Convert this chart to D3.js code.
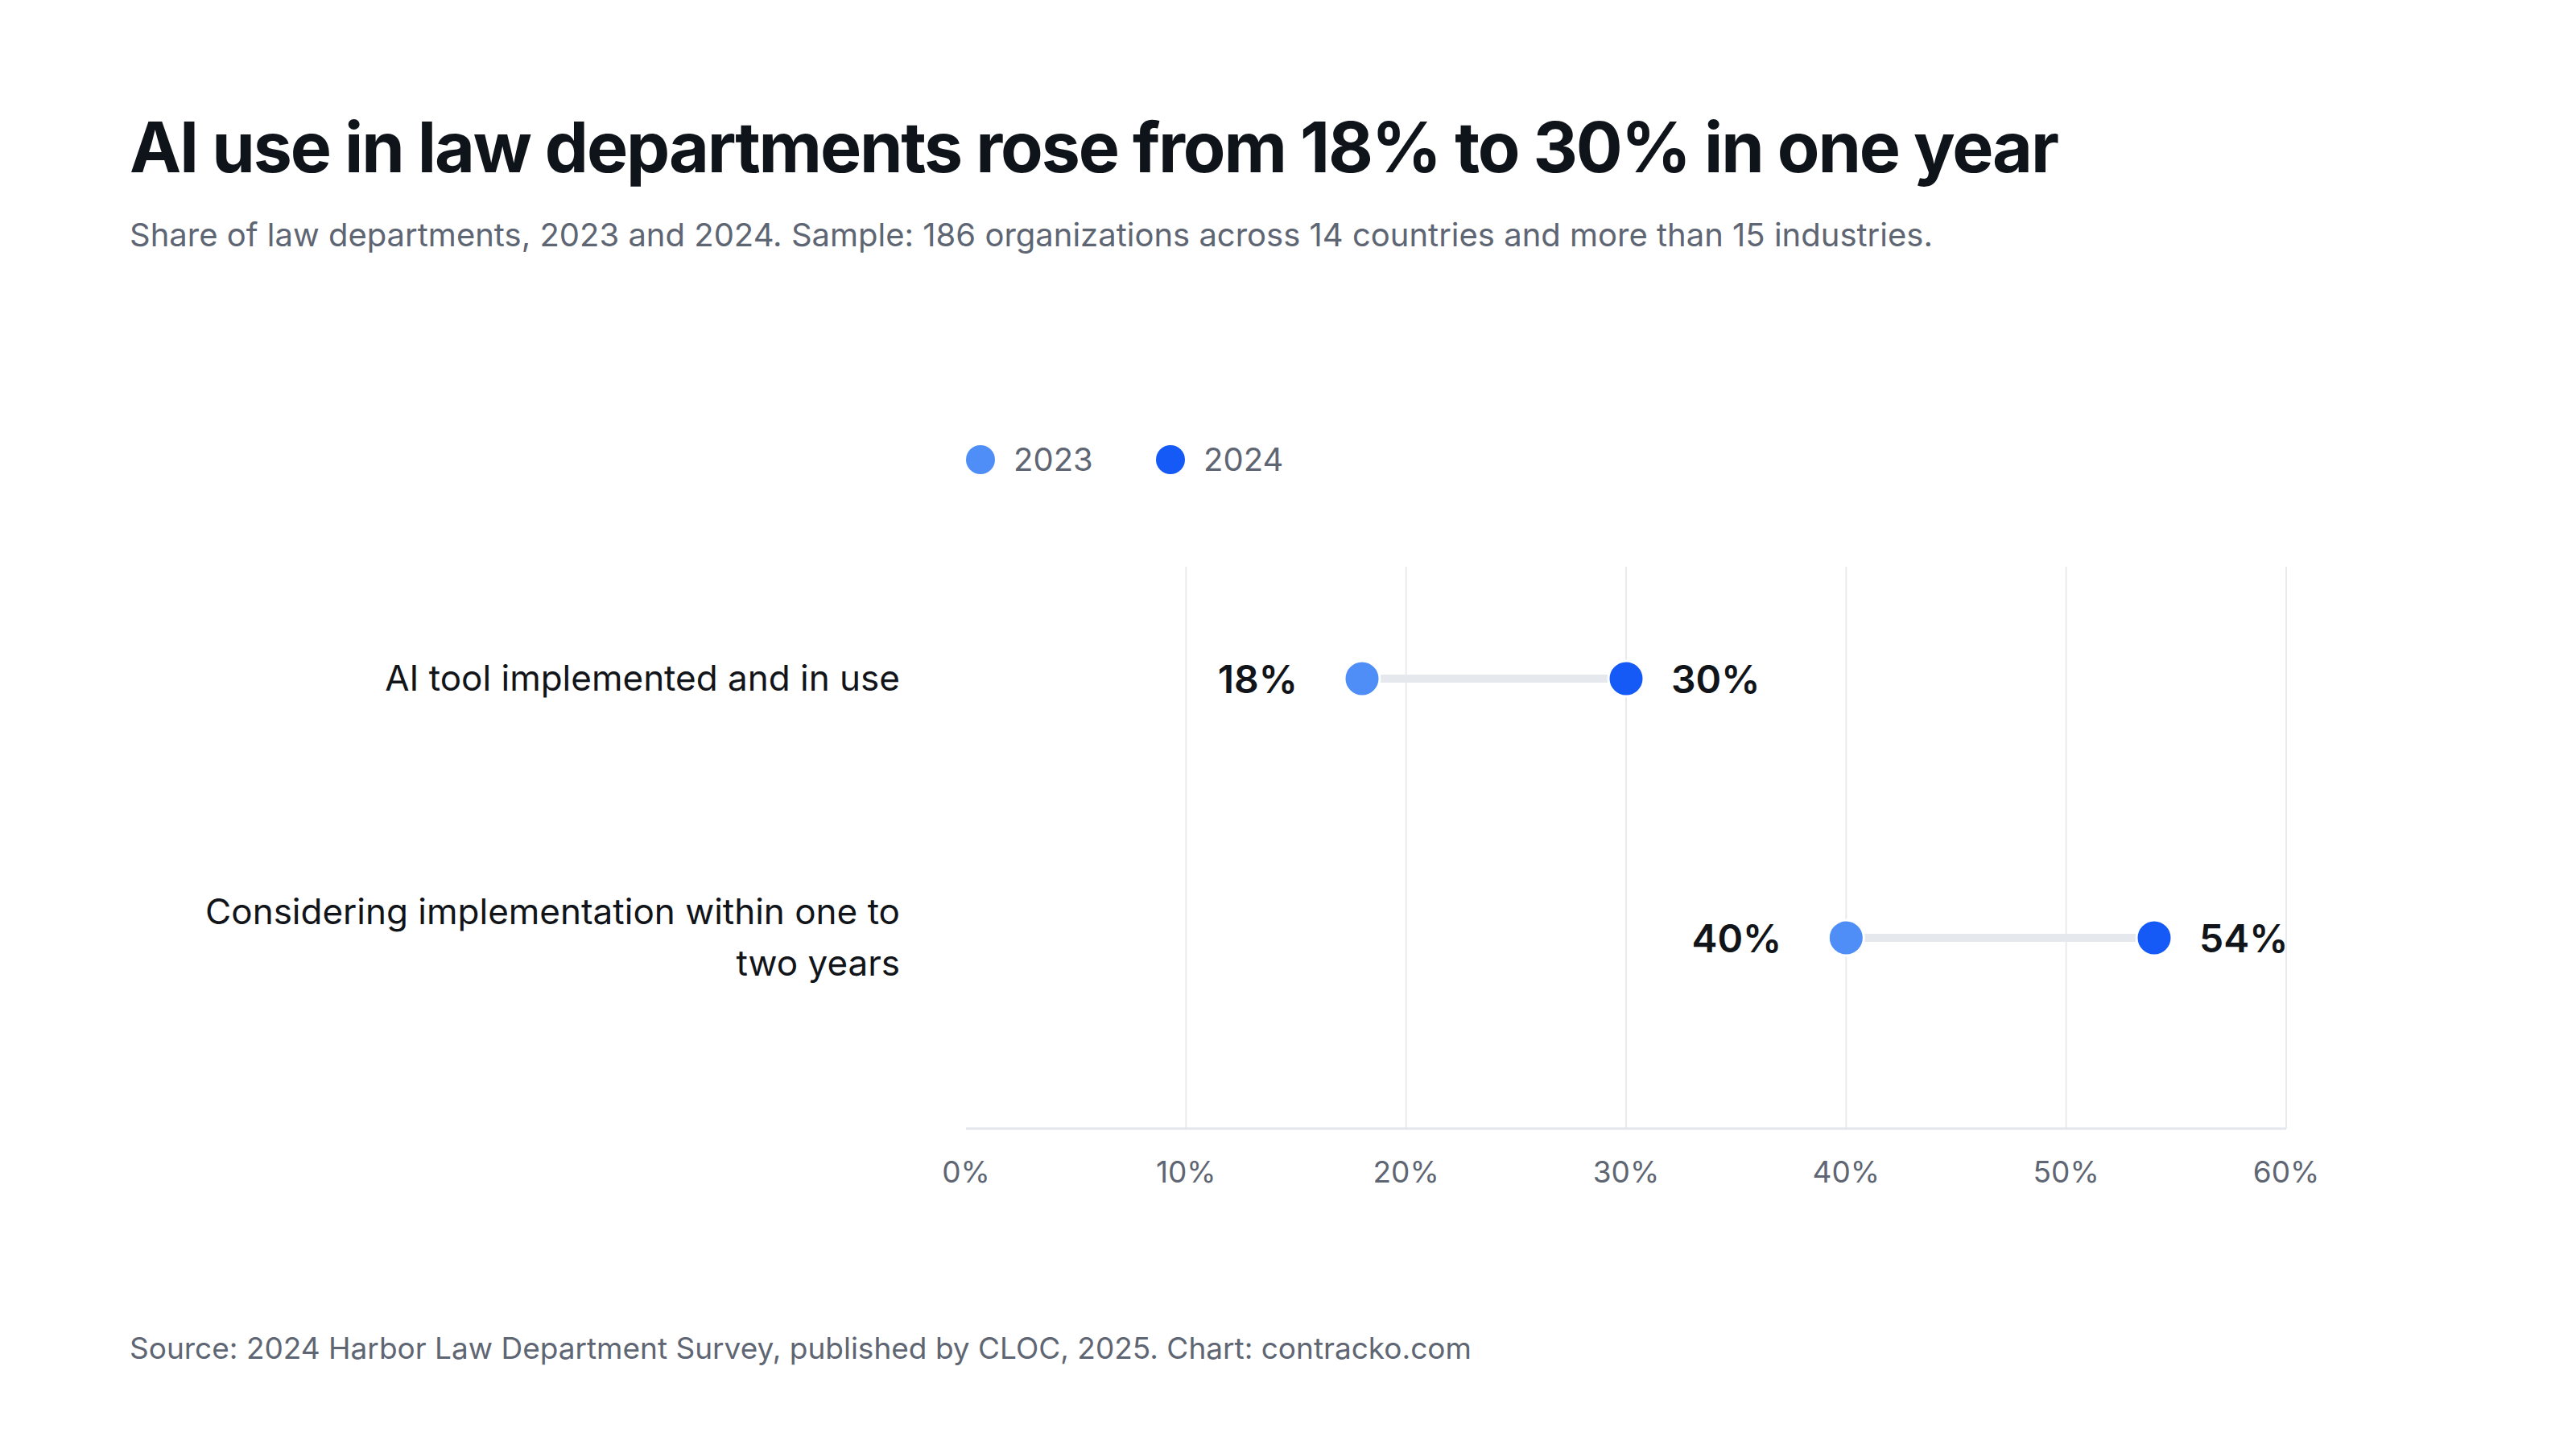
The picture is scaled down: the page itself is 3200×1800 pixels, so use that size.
<!DOCTYPE html>
<html>
<head>
<meta charset="utf-8">
<script src="https://cdn.jsdelivr.net/npm/d3@7.9.0/dist/d3.min.js"></script>
<style>
  body { margin: 0; background: #fff; }
  svg { display: block; font-family: Inter, "Noto Sans", sans-serif; }
</style>
</head>
<body>
<svg width="3200" height="1800"></svg>
<script>
const categories = [
  ['AI tool implemented and in use'],
  ['Considering implementation within one to', 'two years']
];
const values2023 = [18, 40];
const values2024 = [30, 54];
const xTicks = [0, 10, 20, 30, 40, 50, 60];
const years = ['2023', '2024'];

const c2023 = '#4f8ef6';
const c2024 = '#1559f6';

const svg = d3.select('svg');

svg.append('text').attr('x', 161).attr('y', 214)
  .attr('font-size', 86).attr('font-weight', 700).attr('fill', '#0f131a')
  .attr('letter-spacing', '-0.025em')
  .text('AI use in law departments rose from 18% to 30% in one year');

svg.append('text').attr('x', 161).attr('y', 306)
  .attr('font-size', 40).attr('fill', '#5f6673')
  .text('Share of law departments, 2023 and 2024. Sample: 186 organizations across 14 countries and more than 15 industries.');

svg.append('text').attr('x', 161).attr('y', 1688)
  .attr('font-size', 37).attr('fill', '#5f6673')
  .text('Source: 2024 Harbor Law Department Survey, published by CLOC, 2025. Chart: contracko.com');

// legend
const legend = svg.append('g');
[[1218, 1259], [1454, 1495]].forEach(([cx, tx], i) => {
  legend.append('circle').attr('cx', cx).attr('cy', 571).attr('r', 18)
    .attr('fill', i ? c2024 : c2023);
  legend.append('text').attr('x', tx).attr('y', 585)
    .attr('font-size', 40).attr('fill', '#5f6673').text(years[i]);
});

const x = d3.scaleLinear().domain([0, 60]).range([1200, 2840]);
const y = d3.scalePoint().domain(d3.range(categories.length)).range([843, 1165]);
const plotTop = 704, plotBottom = 1402;

svg.append('g').selectAll('line').data(xTicks.slice(1)).join('line')
  .attr('x1', d => x(d)).attr('x2', d => x(d))
  .attr('y1', plotTop).attr('y2', plotBottom)
  .attr('stroke', '#e8eaee').attr('stroke-width', 2);

svg.append('line').attr('x1', x(0)).attr('x2', x(60))
  .attr('y1', plotBottom).attr('y2', plotBottom)
  .attr('stroke', '#e3e6eb').attr('stroke-width', 3);

svg.append('g').selectAll('text').data(xTicks).join('text')
  .attr('x', d => x(d)).attr('y', 1469)
  .attr('text-anchor', 'middle').attr('font-size', 37).attr('fill', '#5f6673')
  .text(d => d + '%');

// category labels
categories.forEach((lines, i) => {
  const t = svg.append('text').attr('x', 1118).attr('text-anchor', 'end')
    .attr('font-size', 44).attr('fill', '#111418');
  const y0 = y(i) - (lines.length - 1) * 64 / 2 + 15;
  lines.forEach((l, j) => t.append('tspan').attr('x', 1118).attr('y', y0 + j * 64).text(l));
});

const rows = categories.map((c, i) => ({ i, a: values2023[i], b: values2024[i] }));
const g = svg.append('g');
g.selectAll('line').data(rows).join('line')
  .attr('x1', d => x(d.a)).attr('x2', d => x(d.b))
  .attr('y1', d => y(d.i)).attr('y2', d => y(d.i))
  .attr('stroke', '#e5e8ed').attr('stroke-width', 10);
g.selectAll('circle.a').data(rows).join('circle').attr('class', 'a')
  .attr('cx', d => x(d.a)).attr('cy', d => y(d.i)).attr('r', 22)
  .attr('fill', c2023).attr('stroke', '#fff').attr('stroke-width', 3);
g.selectAll('circle.b').data(rows).join('circle').attr('class', 'b')
  .attr('cx', d => x(d.b)).attr('cy', d => y(d.i)).attr('r', 22)
  .attr('fill', c2024).attr('stroke', '#fff').attr('stroke-width', 3);
g.selectAll('text.a').data(rows).join('text').attr('class', 'a')
  .attr('x', d => x(d.a) - 80).attr('y', d => y(d.i) + 18)
  .attr('text-anchor', 'end').attr('font-size', 48).attr('font-weight', 600).attr('fill', '#111418')
  .text(d => d.a + '%');
g.selectAll('text.b').data(rows).join('text').attr('class', 'b')
  .attr('x', d => x(d.b) + 56).attr('y', d => y(d.i) + 18)
  .attr('font-size', 48).attr('font-weight', 600).attr('fill', '#111418')
  .text(d => d.b + '%');
</script>
</body>
</html>
